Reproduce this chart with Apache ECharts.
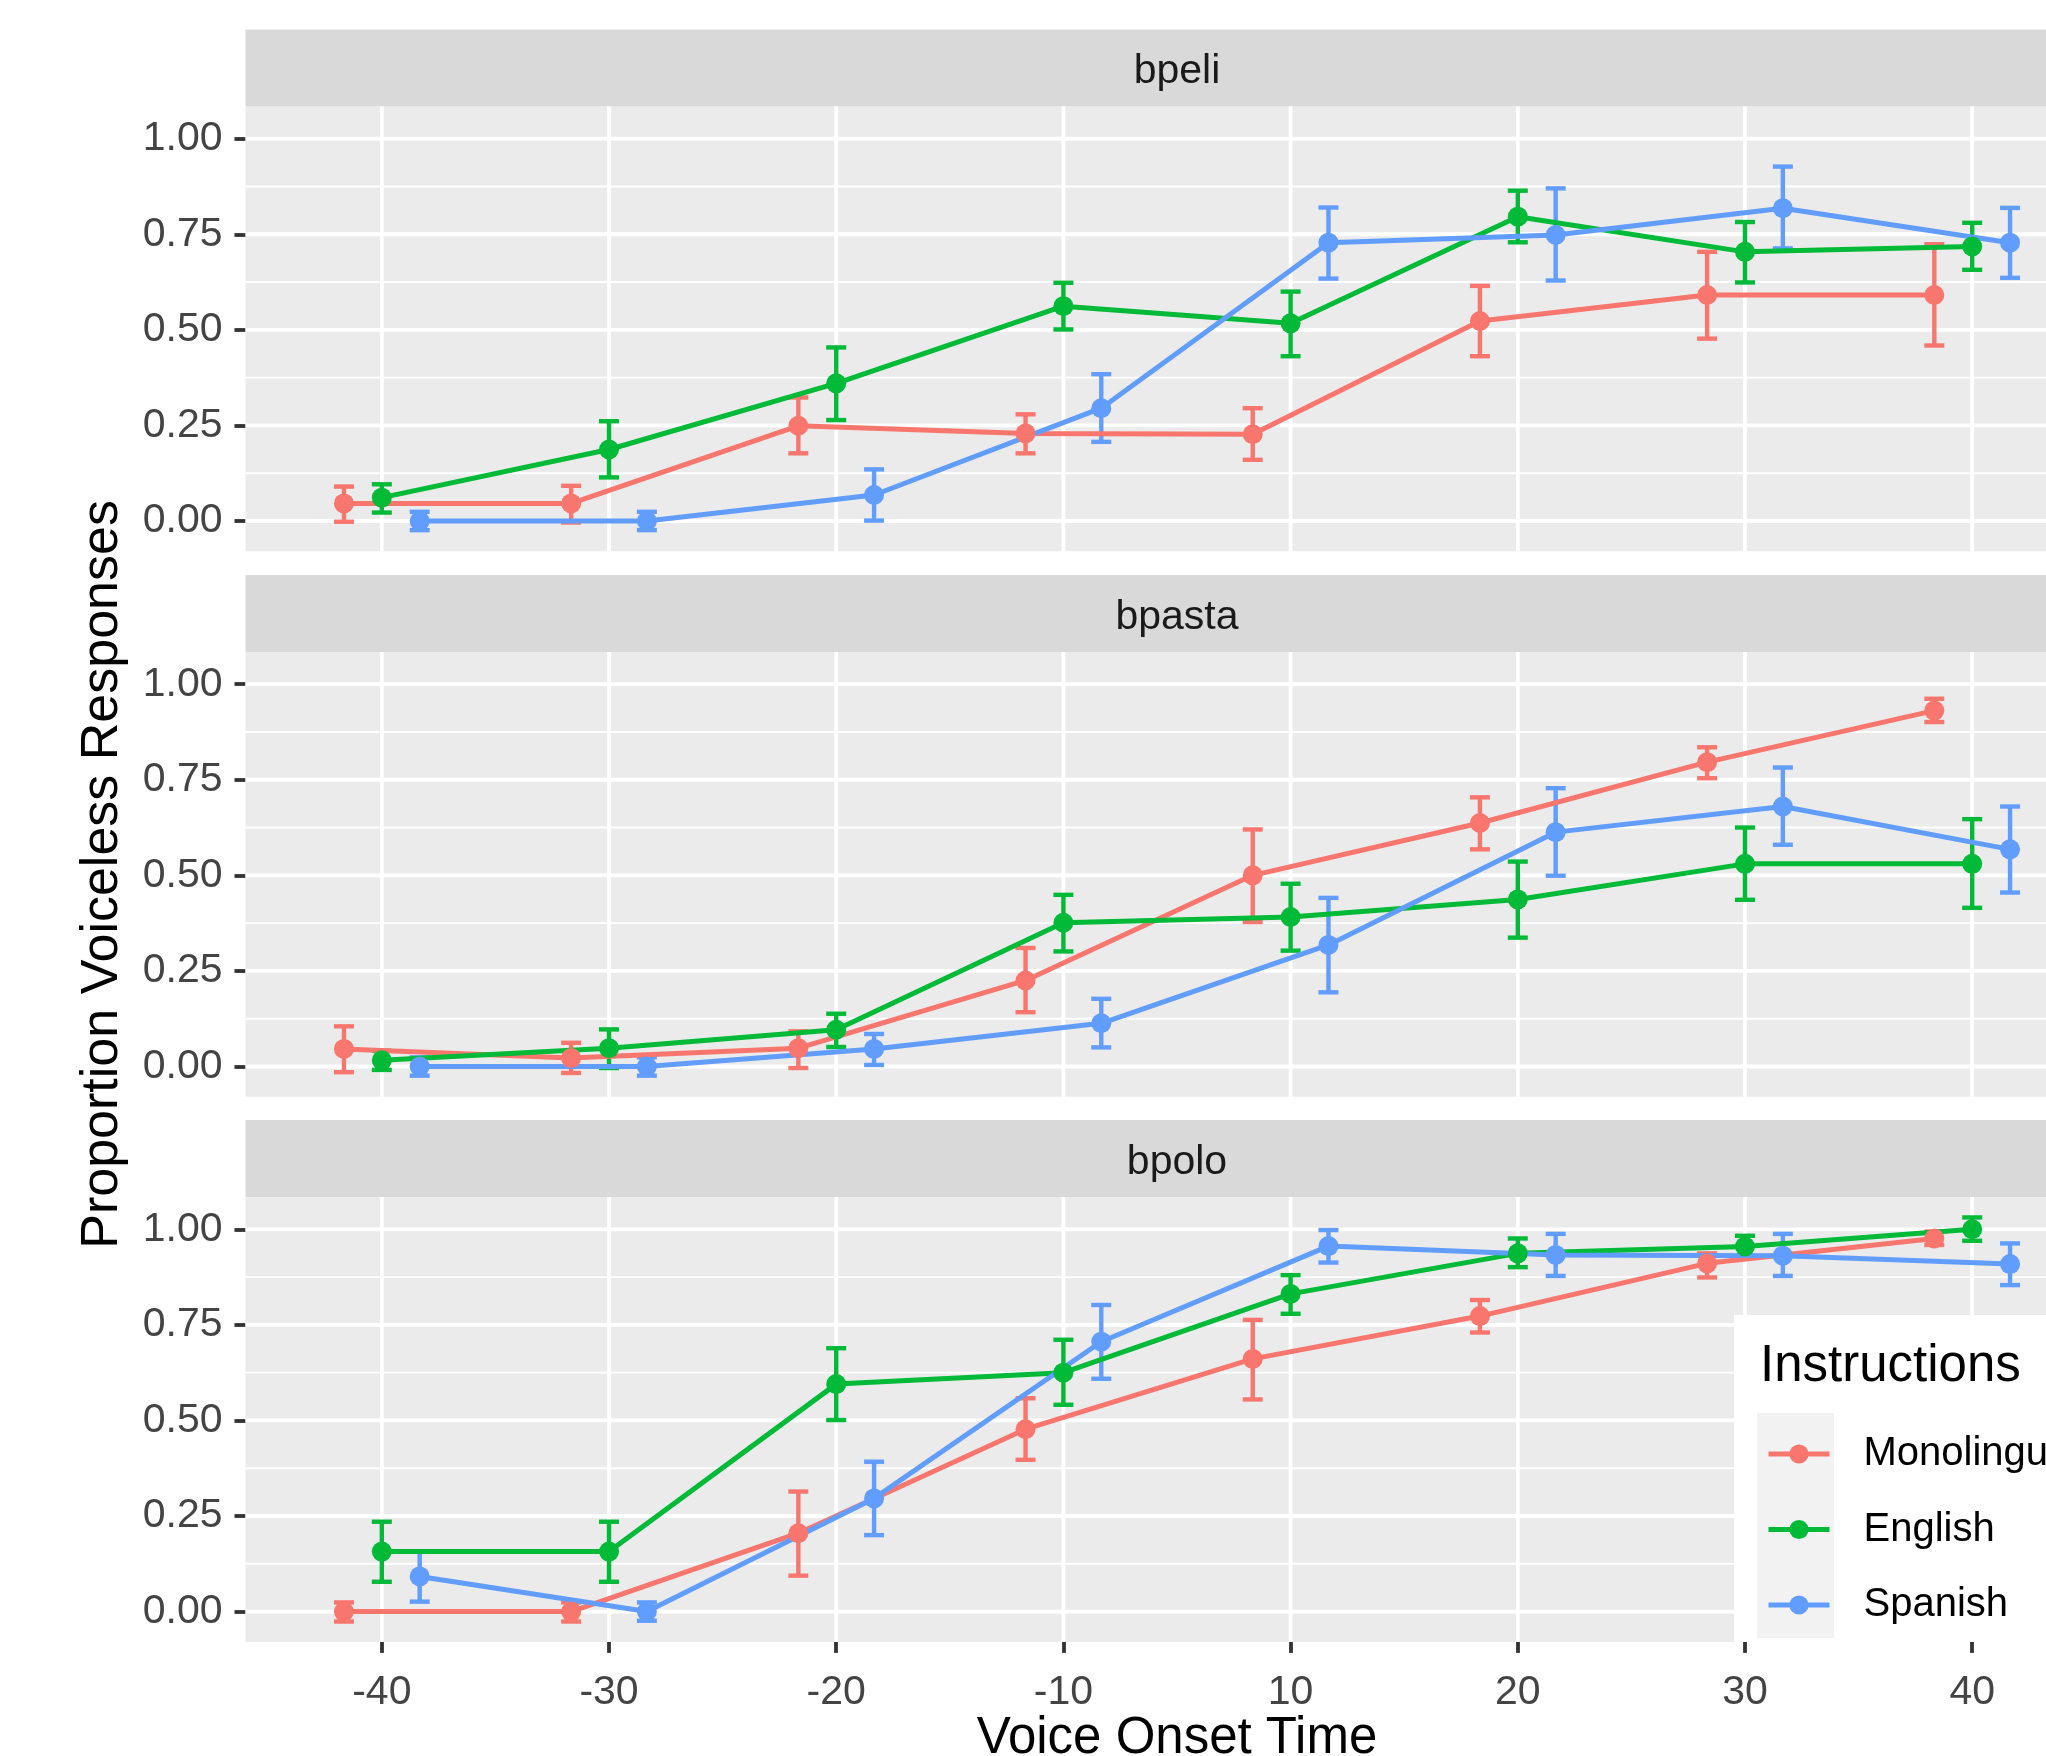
<!DOCTYPE html>
<html><head><meta charset="utf-8">
<script src="https://cdn.jsdelivr.net/npm/echarts@6/dist/echarts.min.js"></script>
<style>html,body{margin:0;padding:0;background:#fff}#c{width:2046px;height:1756px}</style>
</head><body><div id="c"></div>
<script>
// ---------- data ----------
const categories = ['-40', '-30', '-20', '-10', '10', '20', '30', '40'];
const groups = ['Monolingual', 'English', 'Spanish'];
const panels = ['bpeli', 'bpasta', 'bpolo'];
const yTicks = [0, 0.25, 0.5, 0.75, 1.0];
const yMinor = [0.125, 0.375, 0.625, 0.875];

// bpeli
const peliMonoMean = [0.046, 0.046, 0.249, 0.229, 0.227, 0.523, 0.591, 0.591];
const peliMonoLo   = [-0.002, -0.004, 0.177, 0.177, 0.160, 0.431, 0.477, 0.459];
const peliMonoHi   = [0.090, 0.092, 0.323, 0.279, 0.295, 0.615, 0.704, 0.724];
const peliEngMean  = [0.061, 0.187, 0.360, 0.562, 0.517, 0.796, 0.704, 0.718];
const peliEngLo    = [0.022, 0.114, 0.264, 0.501, 0.431, 0.729, 0.624, 0.657];
const peliEngHi    = [0.096, 0.261, 0.454, 0.623, 0.600, 0.864, 0.782, 0.780];
const peliSpaMean  = [0.000, 0.000, 0.068, 0.295, 0.728, 0.748, 0.818, 0.728];
const peliSpaLo    = [-0.024, -0.024, 0.001, 0.207, 0.634, 0.629, 0.713, 0.636];
const peliSpaHi    = [0.024, 0.024, 0.135, 0.384, 0.820, 0.870, 0.927, 0.819];

// bpasta
const pastaMonoMean = [0.046, 0.022, 0.048, 0.225, 0.500, 0.637, 0.796, 0.931];
const pastaMonoLo   = [-0.015, -0.017, -0.004, 0.142, 0.378, 0.568, 0.754, 0.901];
const pastaMonoHi   = [0.105, 0.062, 0.092, 0.310, 0.620, 0.704, 0.835, 0.962];
const pastaEngMean  = [0.016, 0.048, 0.096, 0.376, 0.391, 0.437, 0.530, 0.530];
const pastaEngLo    = [-0.009, -0.004, 0.051, 0.301, 0.303, 0.337, 0.436, 0.415];
const pastaEngHi    = [0.041, 0.097, 0.138, 0.449, 0.478, 0.536, 0.625, 0.647];
const pastaSpaMean  = [0.000, 0.000, 0.046, 0.113, 0.318, 0.613, 0.680, 0.568];
const pastaSpaLo    = [-0.024, -0.024, 0.004, 0.050, 0.194, 0.499, 0.580, 0.455];
const pastaSpaHi    = [0.024, 0.024, 0.085, 0.177, 0.441, 0.728, 0.782, 0.680];

// bpolo
const poloMonoMean = [0.000, 0.000, 0.205, 0.477, 0.661, 0.773, 0.911, 0.976];
const poloMonoLo   = [-0.026, -0.026, 0.094, 0.397, 0.555, 0.730, 0.874, 0.959];
const poloMonoHi   = [0.024, 0.024, 0.314, 0.558, 0.763, 0.815, 0.937, 0.994];
const poloEngMean  = [0.157, 0.157, 0.595, 0.625, 0.831, 0.937, 0.955, 1.000];
const poloEngLo    = [0.078, 0.078, 0.501, 0.541, 0.779, 0.901, 0.930, 0.970];
const poloEngHi    = [0.235, 0.235, 0.689, 0.711, 0.880, 0.976, 0.983, 1.031];
const poloSpaMean  = [0.092, 0.000, 0.296, 0.706, 0.956, 0.933, 0.931, 0.909];
const poloSpaLo    = [0.026, -0.024, 0.200, 0.609, 0.913, 0.878, 0.878, 0.854];
const poloSpaHi    = [0.157, 0.024, 0.392, 0.802, 0.998, 0.988, 0.988, 0.963];

const panelData = [
  [[peliMonoMean, peliMonoLo, peliMonoHi], [peliEngMean, peliEngLo, peliEngHi], [peliSpaMean, peliSpaLo, peliSpaHi]],
  [[pastaMonoMean, pastaMonoLo, pastaMonoHi], [pastaEngMean, pastaEngLo, pastaEngHi], [pastaSpaMean, pastaSpaLo, pastaSpaHi]],
  [[poloMonoMean, poloMonoLo, poloMonoHi], [poloEngMean, poloEngLo, poloEngHi], [poloSpaMean, poloSpaLo, poloSpaHi]]
];

// ---------- styling / layout ----------
const colors = ['#F8766D', '#00BA38', '#619CFF'];
const FONT = "'Liberation Sans', Arial, Helvetica, sans-serif";
const Y_MIN = -0.0793, Y_MAX = 1.0842;
const X_MIN = -0.6, X_MAX = 7.6;
const gridLeft = 245.5, gridW = 1863, gridH = 444.8, stripH = 77;
const gridTops = [106.5, 652.0, 1197.1];
const dodge = [-1 / 6, 0, 1 / 6];
const xIdx = categories.map((c, i) => i);
const LW = 3.8;
const TICK_TEXT = '#444444';

const chart = echarts.init(document.getElementById('c'), null, { renderer: 'canvas', width: 2046, height: 1756 });

const grids = [], xAxes = [], yAxes = [], series = [], graphics = [];

panels.forEach((p, k) => {
  const isBottom = k === panels.length - 1;
  grids.push({ left: gridLeft, top: gridTops[k], width: gridW, height: gridH, show: true,
    backgroundColor: '#EBEBEB', borderWidth: 0, containLabel: false, outerBoundsMode: 'none' });
  xAxes.push({ gridIndex: k, type: 'value', min: X_MIN, max: X_MAX, position: 'bottom',
    axisLine: { show: false, onZero: false }, splitLine: { show: false },
    axisTick: { show: isBottom, customValues: xIdx, length: 11, lineStyle: { color: '#333333', width: LW } },
    axisLabel: { show: isBottom, customValues: xIdx, formatter: v => categories[Math.round(v)],
      fontSize: 41, color: TICK_TEXT, fontFamily: FONT, margin: 30 },
    name: isBottom ? 'Voice Onset Time' : '', nameLocation: 'middle', nameGap: 72,
    nameTextStyle: { fontSize: 51, color: '#000000', fontFamily: FONT } });
  yAxes.push({ gridIndex: k, type: 'value', min: Y_MIN, max: Y_MAX, position: 'left',
    axisLine: { show: false, onZero: false }, splitLine: { show: false },
    axisTick: { show: true, customValues: yTicks, length: 11, lineStyle: { color: '#333333', width: LW } },
    axisLabel: { customValues: yTicks, formatter: v => v.toFixed(2), fontSize: 41, color: TICK_TEXT,
      fontFamily: FONT, margin: 23 },
    name: k === 1 ? 'Proportion Voiceless Responses' : '', nameLocation: 'middle', nameGap: 117,
    nameTextStyle: { fontSize: 52, color: '#000000', fontFamily: FONT } });

  // grid lines (horizontal)
  series.push({ type: 'custom', xAxisIndex: k, yAxisIndex: k, z: 1, silent: true,
    data: yTicks.map(v => [0, v, 1]).concat(yMinor.map(v => [0, v, 0])),
    encode: { x: 0, y: 1 },
    renderItem: (params, api) => {
      const cs = params.coordSys;
      const y = api.coord([0, api.value(1)])[1];
      return { type: 'line', shape: { x1: cs.x, y1: y, x2: cs.x + cs.width, y2: y },
        style: { stroke: '#FFFFFF', lineWidth: api.value(2) ? LW : LW / 2 } };
    } });
  // grid lines (vertical)
  series.push({ type: 'custom', xAxisIndex: k, yAxisIndex: k, z: 1, silent: true,
    data: xIdx.map(i => [i, 0]),
    encode: { x: 0, y: 1 },
    renderItem: (params, api) => {
      const cs = params.coordSys;
      const x = api.coord([api.value(0), 0])[0];
      return { type: 'line', shape: { x1: x, y1: cs.y, x2: x, y2: cs.y + cs.height },
        style: { stroke: '#FFFFFF', lineWidth: LW } };
    } });

  groups.forEach((g, gi) => {
    const [mean, lo, hi] = panelData[k][gi];
    const col = colors[gi];
    // error bars
    series.push({ type: 'custom', name: g + ' error', xAxisIndex: k, yAxisIndex: k, z: 2, silent: true,
      data: xIdx.map(i => [i + dodge[gi], lo[i], hi[i]]),
      encode: { x: 0, y: [1, 2] },
      renderItem: (params, api) => {
        const x = api.value(0);
        const pTop = api.coord([x, api.value(2)]);
        const pBot = api.coord([x, api.value(1)]);
        const hw = 10;
        const st = { stroke: col, lineWidth: 4.4 };
        return { type: 'group', children: [
          { type: 'line', shape: { x1: pTop[0], y1: pTop[1], x2: pBot[0], y2: pBot[1] }, style: st },
          { type: 'line', shape: { x1: pTop[0] - hw, y1: pTop[1], x2: pTop[0] + hw, y2: pTop[1] }, style: st },
          { type: 'line', shape: { x1: pBot[0] - hw, y1: pBot[1], x2: pBot[0] + hw, y2: pBot[1] }, style: st }
        ] };
      } });
    // lines + points
    series.push({ type: 'line', name: g, xAxisIndex: k, yAxisIndex: k, z: 3,
      data: xIdx.map(i => [i + dodge[gi], mean[i]]),
      symbol: 'circle', symbolSize: 20, showSymbol: true,
      lineStyle: { color: col, width: 5 }, itemStyle: { color: col, borderWidth: 0 },
      emphasis: { disabled: true } });
  });

  // strip
  graphics.push({ type: 'rect', z: 0, silent: true,
    shape: { x: gridLeft, y: gridTops[k] - stripH, width: gridW, height: stripH },
    style: { fill: '#D9D9D9' } });
  graphics.push({ type: 'text', z: 1, silent: true, x: gridLeft + gridW / 2, y: gridTops[k] - stripH / 2 + 4,
    style: { text: p, font: '41px ' + FONT, fill: '#1A1A1A', align: 'center', verticalAlign: 'middle' } });
});

// legend box
graphics.push({ type: 'rect', z: 10, silent: true, shape: { x: 1734, y: 1315, width: 400, height: 327 },
  style: { fill: '#FFFFFF' } });
graphics.push({ type: 'rect', z: 11, silent: true, shape: { x: 1757, y: 1413, width: 77, height: 225 },
  style: { fill: '#F2F2F2' } });
graphics.push({ type: 'text', z: 12, silent: true, x: 1760, y: 1367,
  style: { text: 'Instructions', font: '51px ' + FONT, fill: '#000000', align: 'left', verticalAlign: 'middle' } });

chart.setOption({
  animation: false,
  backgroundColor: '#FFFFFF',
  grid: grids, xAxis: xAxes, yAxis: yAxes, series: series,
  graphic: { elements: graphics },
  legend: { show: true, data: groups, orient: 'vertical', left: 1766, top: 1434, padding: 0,
    itemWidth: 61, itemHeight: 24, itemGap: 35.5, selectedMode: false, z: 20,
    lineStyle: { width: 5 },
    textStyle: { fontSize: 40, color: '#000000', fontFamily: FONT, lineHeight: 24, padding: [0, 0, 0, 29] } }
});
</script></body></html>
